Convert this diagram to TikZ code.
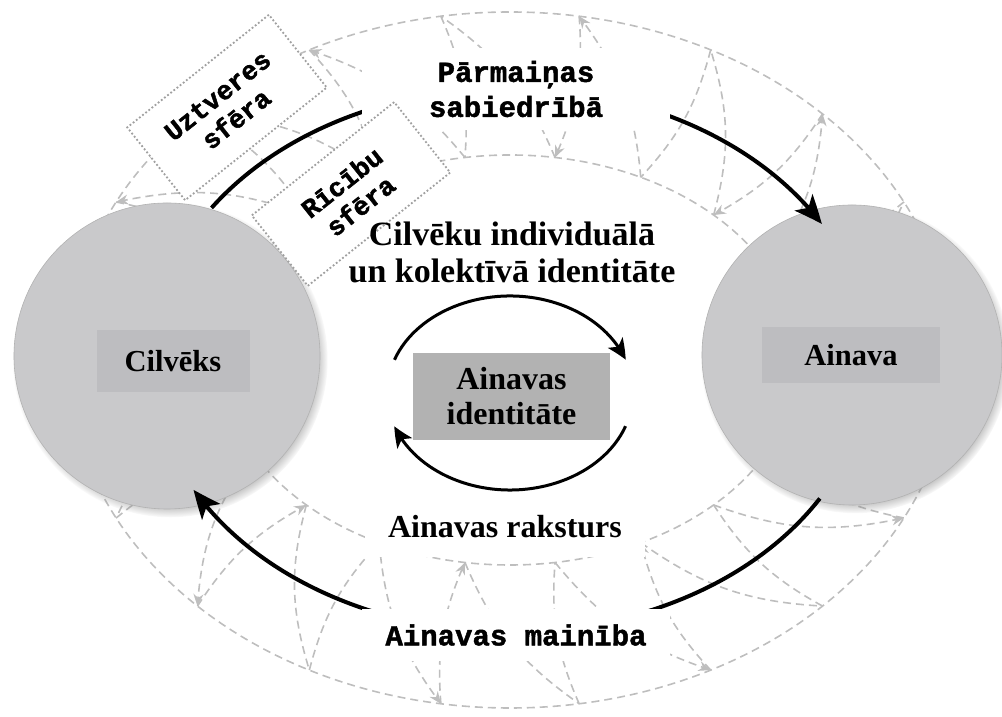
\documentclass[tikz,border=0pt]{standalone}
\usepackage{fontspec}
\setmainfont{Liberation Serif}
\newfontfamily\monobf{Liberation Mono Bold}[FakeBold=1.6]
\usetikzlibrary{arrows.meta,shadows,bending}
\definecolor{circfill}{HTML}{C9C9CB}
\definecolor{labfill}{HTML}{BDBDC0}
\definecolor{idfill}{HTML}{B2B2B2}
\definecolor{bandgray}{HTML}{BEBEBE}
\definecolor{dotgray}{HTML}{A0A0A0}
\begin{document}
\begin{tikzpicture}[x=0.5pt,y=0.5pt,
  band/.style={draw=bandgray, line width=0.8pt, dash pattern=on 4pt off 2.5pt},
  bandtip/.style={-{Stealth[length=6pt,width=5pt,bend]}},
  bigcirc/.style={circle, fill=circfill, draw=black!30, line width=0.3pt, inner sep=0pt,
     circular drop shadow={shadow xshift=1.5pt,shadow yshift=-1.8pt,shadow scale=1.03}},
  labbox/.style={fill=labfill, inner sep=0pt, font=\fontsize{15.25}{17}\selectfont\bfseries},
  whitelab/.style={fill=white, inner sep=0pt, align=center},
  serifb/.style={font=\fontsize{16}{17.5}\selectfont\bfseries},
  monob/.style={font=\fontsize{14.5}{17.5}\selectfont\monobf},
  sphere/.style={fill=white, draw=dotgray, line width=0.9pt, dash pattern=on 0.9pt off 1.1pt,
     inner sep=0pt, align=center, font=\fontsize{13.25}{15}\selectfont\monobf},
  bigarrow/.style={line width=2pt, -{Stealth[length=14pt,width=12pt,inset=3.5pt,bend]}},
  smallarrow/.style={line width=1.5pt, -{Stealth[length=10pt,width=9pt,inset=2.5pt,bend]}}
]
\useasboundingbox (0,0) rectangle (1002,717);

% ---- dashed band ----
\draw[band] (510,357) ellipse[x radius=442, y radius=348];
\draw[band] (510,357) ellipse[x radius=288, y radius=205];
\foreach \k in {0,...,19}{
  \pgfmathsetmacro\t{9+18*\k}
  \coordinate (o\k) at ({510+442*cos(\t)},{357+348*sin(\t)});
  \coordinate (i\k) at ({510+288*cos(\t)},{357+205*sin(\t)});
}
\foreach \k in {0,...,19}{
  \pgfmathtruncatemacro\n{mod(\k+1,20)}
  \pgfmathtruncatemacro\ev{mod(\k,2)}
  \ifnum\ev=0
    \draw[band,bandtip] (o\k) to[bend left=14] (i\k);
    \draw[band] (i\k) to[bend right=16] (o\n);
  \else
    \draw[band] (o\k) to[bend left=14] (i\k);
    \draw[band,bandtip] (i\k) to[bend right=16] (o\n);
  \fi
}

% ---- big circles ----
\node[bigcirc, minimum size=153pt] (cilv) at (167,361) {};
\node[bigcirc, minimum size=150pt] (ainc) at (852,362) {};
\node[labbox, minimum width=76.5pt, minimum height=31pt] (cil) at (173,356) {Cilvēks};
\node[labbox, minimum width=89pt, minimum height=28pt] (ain) at (851,362) {Ainava};

% ---- big black arcs ----
\coordinate (ta) at ({510+360*cos(146)},{357+272*sin(146)});
\coordinate (ba) at ({510+360*cos(-30.6)},{357+272*sin(-30.6)});
\draw[bigarrow] (ta) arc[start angle=146, end angle=30, x radius=360, y radius=272];
\draw[bigarrow] (ba) arc[start angle=-30.6, end angle=-151.5, x radius=360, y radius=272];

% ---- white label boxes ----
\node[whitelab, monob, minimum width=154pt, minimum height=41pt] (parm) at (516,628) {Pārmaiņas\\sabiedrībā};
\node[whitelab, serifb, minimum width=140pt, minimum height=30pt] (rakst) at (505,190) {Ainavas raksturs};
\node[whitelab, monob, minimum width=154pt, minimum height=26pt] (main) at (516,82) {Ainavas mainība};

% ---- sphere boxes ----
\node[sphere, rotate=38.5, minimum width=90.5pt, minimum height=46.5pt] (uzt) at (227,609.5) {Uztveres\\sfēra};
\node[sphere, rotate=38.5, minimum width=91pt, minimum height=45pt] (ric) at (351,523) {Rīcību\\sfēra};

% ---- identity text ----
\node[align=center, font=\fontsize{17}{18.5}\selectfont\bfseries] (indiv) at (512,465) {Cilvēku individuālā\\un kolektīvā identitāte};

% ---- central cycle ----
\node[fill=idfill, inner sep=0pt, minimum width=98.5pt, minimum height=43.5pt, align=center,
      font=\fontsize{16}{17.5}\selectfont\bfseries] (ident) at (511.5,320.5) {Ainavas\\identitāte};
\coordinate (ca) at ({510+123*cos(160)},{324+97*sin(160)});
\coordinate (cb) at ({510+123*cos(-20)},{324+97*sin(-20)});
\draw[smallarrow] (ca) arc[start angle=160, end angle=20, x radius=123, y radius=97];
\draw[smallarrow] (cb) arc[start angle=-20, end angle=-160, x radius=123, y radius=97];
\end{tikzpicture}
\end{document}
